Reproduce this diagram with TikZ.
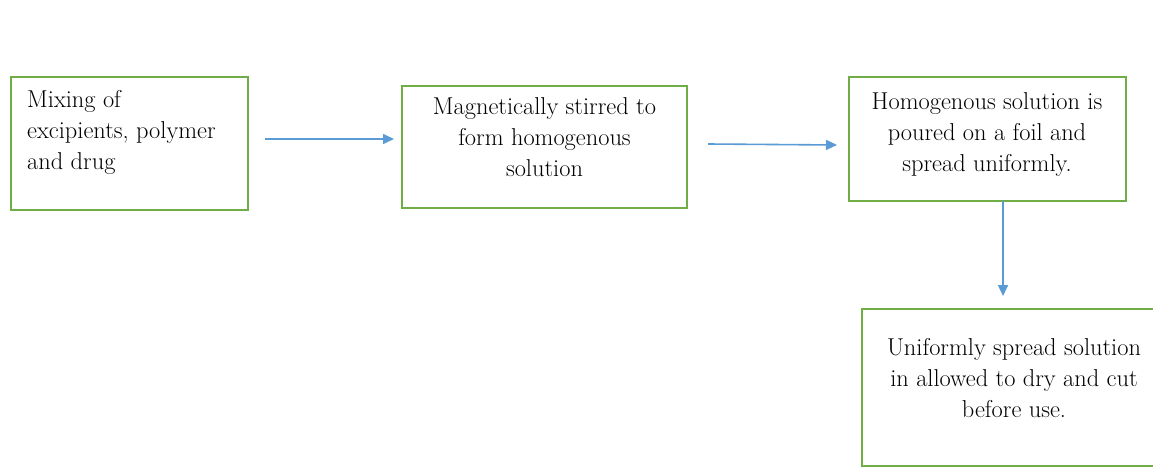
\documentclass[tikz,border=0pt]{standalone}
\usetikzlibrary{arrows.meta}
\definecolor{boxgreen}{HTML}{70AD47}
\definecolor{arrowblue}{HTML}{5B9BD5}
\tikzset{
  box/.style={draw=boxgreen, line width=2pt, rectangle, inner sep=0pt, fill=none},
  label/.style={inner sep=0pt, text=black, font=\fontsize{24.4}{31}\selectfont},
  flow/.style={draw=arrowblue, line width=1.6pt, -{Triangle[length=11pt,width=10pt]}}
}
\begin{document}
\begin{tikzpicture}[x=1pt,y=-1pt]
\clip (0,0) rectangle (1153,476);
\fill[white] (0,0) rectangle (1153,476);
% boxes
\node[box, minimum width=237pt, minimum height=133pt] (b1) at (129.5,143.5) {};
\node[box, minimum width=285pt, minimum height=122pt] (b2) at (544.5,147) {};
\node[box, minimum width=277pt, minimum height=124pt] (b3) at (987.5,139) {};
\node[box, minimum width=298pt, minimum height=157pt] (b4) at (1011,387.5) {};
% texts
\node[label, align=left, anchor=north west] (t1) at (27,90) {Mixing of\\excipients, polymer\\and drug};
\node[label, align=center, anchor=north] (t2) at (544.5,97) {Magnetically stirred to\\form homogenous\\solution};
\node[label, align=center, anchor=north] (t3) at (987,92) {Homogenous solution is\\poured on a foil and\\spread uniformly.};
\node[label, align=center, anchor=north] (t4) at (1014,338) {Uniformly spread solution\\in allowed to dry and cut\\before use.};
% connector ends
\coordinate (a1s) at (265,139);
\coordinate (a1e) at (394,139);
\coordinate (a2s) at (708,144);
\coordinate (a2e) at (837,145);
\coordinate (a3s) at (1003,201);
\coordinate (a3e) at (1003,296);
\draw[flow] (a1s) -- (a1e);
\draw[flow] (a2s) -- (a2e);
\draw[flow] (a3s) -- (a3e);
\end{tikzpicture}
\end{document}
